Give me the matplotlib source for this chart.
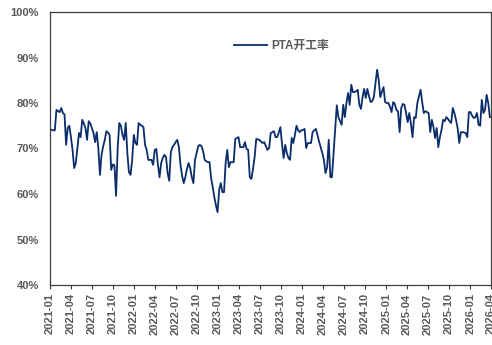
import matplotlib
matplotlib.use("Agg")
import matplotlib.pyplot as plt
import matplotlib.dates as mdates
from matplotlib.ticker import FuncFormatter
import pandas as pd

plt.rcParams['font.family'] = ['Liberation Sans', 'Noto Sans CJK SC', 'DejaVu Sans']

# Weekly PTA operating rate (%), starting first week of 2021
start_date = "2021-01-01"
pta_rate = [
    74.1, 74.1, 74.0, 74.0, 78.5, 78.2, 78.0, 78.9, 77.8, 77.5,
    70.8, 74.5, 75.0, 72.5, 69.7, 65.7, 66.8, 70.0, 73.4, 72.5,
    76.3, 75.5, 74.5, 71.9, 76.0, 75.5, 74.5, 73.4, 71.4, 73.6,
    70.1, 64.2, 68.6, 70.5, 71.9, 73.8, 73.5, 73.0, 65.3, 66.5,
    66.3, 59.6, 70.1, 75.6, 75.0, 73.0, 71.9, 75.6, 69.0, 64.8,
    64.2, 67.5, 73.0, 71.2, 70.8, 75.6, 75.2, 75.0, 74.7, 70.8,
    69.7, 67.5, 67.5, 67.5, 66.4, 69.7, 69.9, 66.4, 63.7, 66.8,
    67.9, 68.6, 68.1, 64.6, 62.9, 69.2, 70.3, 70.8, 71.4, 71.9,
    70.3, 66.4, 64.0, 62.4, 63.7, 65.5, 66.8, 65.7, 63.7, 62.4,
    67.5, 69.0, 70.5, 70.8, 70.5, 69.5, 67.5, 67.2, 67.0, 67.0,
    63.5, 61.5, 59.3, 57.5, 56.0, 60.9, 62.4, 60.4, 60.4, 66.8,
    69.7, 65.9, 67.0, 67.0, 67.0, 72.1, 72.3, 72.5, 70.3, 70.3,
    70.3, 71.4, 69.9, 69.7, 63.7, 63.3, 65.5, 68.1, 72.1, 72.0,
    71.9, 71.5, 71.2, 71.4, 70.5, 69.7, 70.1, 73.4, 73.6, 73.8,
    72.5, 72.5, 73.5, 74.7, 71.0, 67.9, 70.8, 69.0, 67.9, 67.5,
    72.3, 71.2, 73.0, 75.0, 74.0, 73.6, 74.0, 74.1, 74.3, 70.1,
    71.2, 71.2, 71.2, 73.6, 74.0, 74.3, 73.0, 71.5, 70.3, 69.0,
    67.5, 64.6, 65.9, 71.9, 63.7, 63.7, 69.0, 74.1, 79.5, 76.9,
    76.0, 75.2, 79.6, 76.9, 80.0, 82.2, 79.6, 84.0, 82.4, 82.4,
    82.6, 82.9, 79.6, 78.7, 81.3, 83.1, 81.1, 83.1, 81.5, 80.2,
    80.4, 81.3, 84.4, 87.3, 85.1, 81.3, 82.5, 83.5, 80.2, 80.0,
    80.0, 79.2, 78.0, 80.2, 79.8, 78.5, 78.2, 73.6, 78.9, 79.8,
    79.6, 77.8, 75.8, 77.8, 75.5, 72.5, 76.9, 76.7, 80.0, 81.5,
    82.9, 80.2, 77.8, 78.2, 78.0, 77.8, 73.6, 76.3, 74.7, 72.3,
    74.5, 70.3, 72.5, 74.1, 76.3, 76.0, 76.9, 76.5, 76.0, 75.6,
    78.9, 77.8, 76.3, 74.5, 71.2, 73.6, 73.6, 73.5, 73.4, 72.5,
    78.0, 78.0, 77.2, 76.7, 76.9, 77.8, 75.2, 75.0, 80.7, 77.8,
    78.5, 81.8, 80.0, 76.9,
]
weeks = pd.date_range(start_date, periods=len(pta_rate), freq="7D")

series_label = "PTA开工率"
x_range = ("2021-01-01", "2026-04-01")
y_ticks = [40, 50, 60, 70, 80, 90, 100]

line_color = "#0B2D6B"
text_color = "#595959"
axis_color = "#3F3F3F"

fig = plt.figure(figsize=(4.92, 3.45), dpi=100)
ax = fig.add_axes([50 / 492, 1 - 285 / 345, 441 / 492, 273 / 345])

ax.plot(weeks, pta_rate, color=line_color, linewidth=1.3, label=series_label)

ax.set_xlim(pd.Timestamp(x_range[0]), pd.Timestamp(x_range[1]))
ax.set_ylim(40, 100)
ax.set_yticks(y_ticks)
ax.yaxis.set_major_formatter(FuncFormatter(lambda v, _: f"{int(v)}%"))

ax.xaxis.set_major_locator(mdates.MonthLocator(bymonth=[1, 4, 7, 10]))
ax.xaxis.set_major_formatter(mdates.DateFormatter("%Y-%m"))

for lab in ax.get_xticklabels():
    lab.set_rotation(90)
for lab in ax.get_xticklabels() + ax.get_yticklabels():
    lab.set_fontsize(8)
    lab.set_fontweight("bold")
    lab.set_color(text_color)

ax.tick_params(axis="x", direction="out", length=3, width=0.8, color=axis_color, pad=3)
ax.tick_params(axis="y", length=0, pad=8)

for sp in ax.spines.values():
    sp.set_color(axis_color)
    sp.set_linewidth(0.9)

leg = ax.legend(loc="center", bbox_to_anchor=(0.525, 0.875), frameon=False,
                handlelength=2.8, handletextpad=0.4,
                prop={"family": ["Liberation Sans", "Noto Sans CJK SC"], "weight": "bold", "size": 8.5})
for t in leg.get_texts():
    t.set_color(text_color)

fig.savefig("out.png", dpi=100)
